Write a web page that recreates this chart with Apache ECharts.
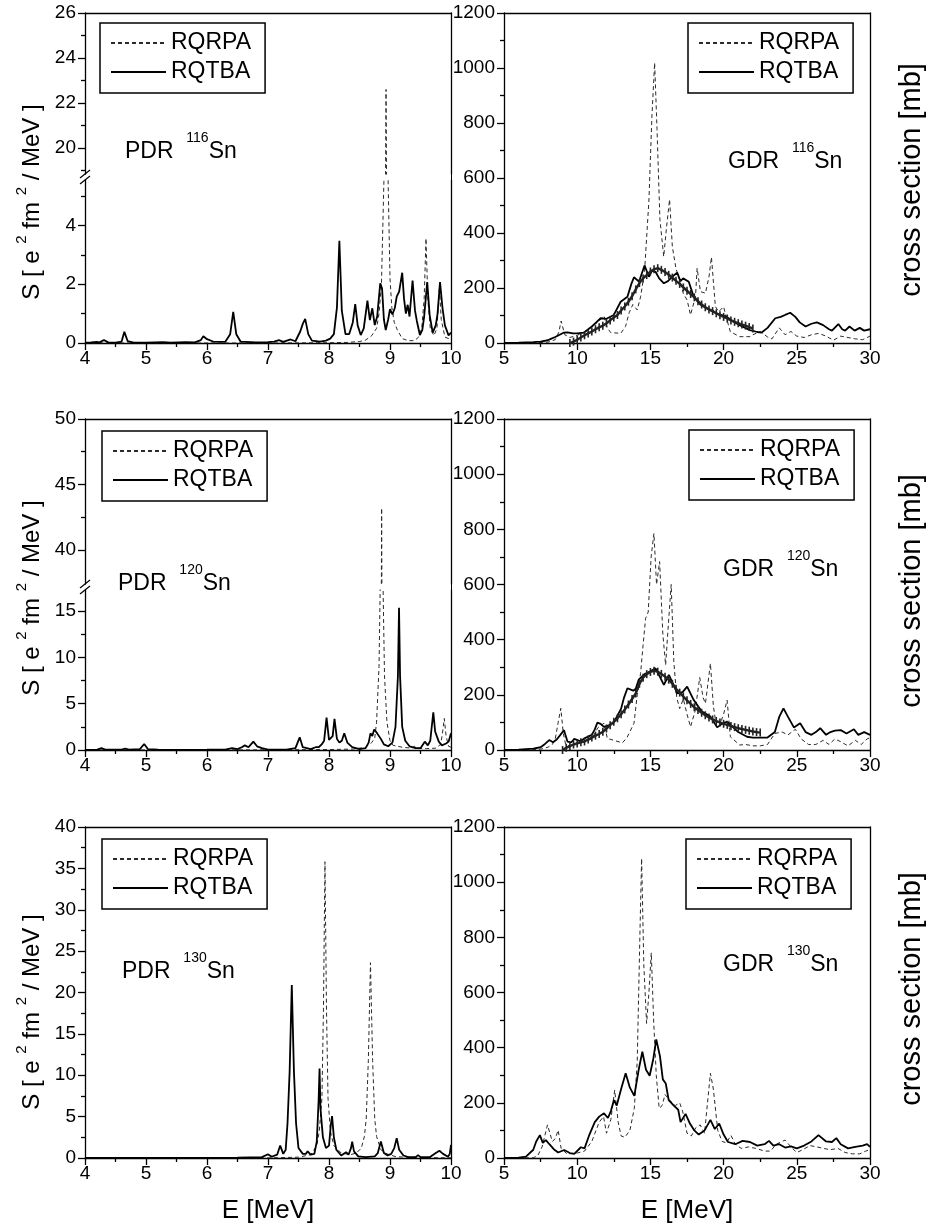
<!DOCTYPE html>
<html><head><meta charset="utf-8">
<script src="https://cdn.jsdelivr.net/npm/echarts@6/dist/echarts.min.js"></script>
<style>html,body{margin:0;padding:0;background:#fff}#c{width:931px;height:1228px}</style>
</head><body><div id="c"></div>
<script>
// ---------------- DATA ----------------
const pdrTicksX = [4,5,6,7,8,9,10];
const pdrMinorX = [4.5,5.5,6.5,7.5,8.5,9.5];
const gdrTicksX = [5,10,15,20,25,30];
const gdrMinorX = [7.5,12.5,17.5,22.5,27.5];
const gdrTicksY = [0,200,400,600,800,1000,1200];
const gdrMinorY = [100,300,500,700,900,1100];
const p116UpperTicks = [20,22,24,26], p116UpperMinor = [19,21,23,25];
const p116LowerTicks = [0,2,4], p116LowerMinor = [1,3,5];
const p120UpperTicks = [40,45,50], p120UpperMinor = [42.5,47.5];
const p120LowerTicks = [0,5,10,15], p120LowerMinor = [2.5,7.5,12.5];
const p130Ticks = [0,5,10,15,20,25,30,35,40], p130Minor = [2.5,7.5,12.5,17.5,22.5,27.5,32.5,37.5];

// PDR 116Sn  [E (MeV), S (e^2 fm^2 / MeV)]
const pdr116_rqtba = [[4.0,0.01],[4.1,0.02],[4.19,0.04],[4.24,0.02],[4.31,0.1],[4.38,0.02],[4.5,0.01],[4.6,0.05],[4.645,0.38],[4.7,0.06],[4.8,0.01],[5.0,0.01],[5.28,0.03],[5.4,0.01],[5.65,0.03],[5.8,0.02],[5.9,0.1],[5.94,0.23],[6.0,0.13],[6.1,0.05],[6.3,0.04],[6.38,0.3],[6.43,1.06],[6.48,0.3],[6.55,0.05],[6.8,0.02],[7.0,0.03],[7.1,0.05],[7.18,0.1],[7.25,0.04],[7.37,0.12],[7.45,0.06],[7.53,0.4],[7.57,0.65],[7.61,0.82],[7.66,0.3],[7.72,0.08],[7.85,0.05],[7.95,0.08],[8.02,0.15],[8.08,0.3],[8.13,1.2],[8.17,3.48],[8.21,1.1],[8.27,0.3],[8.33,0.3],[8.39,0.7],[8.43,1.32],[8.47,0.6],[8.52,0.27],[8.57,0.5],[8.63,1.44],[8.67,0.78],[8.71,1.18],[8.75,0.61],[8.79,0.9],[8.84,2.03],[8.87,1.85],[8.9,0.8],[8.93,0.44],[8.97,0.8],[9.0,1.15],[9.04,0.97],[9.08,1.2],[9.11,1.58],[9.15,1.75],[9.2,2.39],[9.23,1.5],[9.26,1.0],[9.29,1.3],[9.32,0.9],[9.37,2.12],[9.41,1.1],[9.44,0.75],[9.49,0.27],[9.53,0.45],[9.56,0.9],[9.61,2.07],[9.65,0.95],[9.7,0.35],[9.75,0.6],[9.78,1.0],[9.82,2.07],[9.86,1.2],[9.9,0.6],[9.96,0.26],[10.0,0.35]];
const pdr116_rqrpa = [[4.0,0.0],[7.0,0.0],[8.0,0.01],[8.3,0.02],[8.5,0.05],[8.6,0.1],[8.7,0.25],[8.78,0.5],[8.82,1.0],[8.86,2.0],[8.9,5.5],[8.935,22.6],[8.97,5.4],[9.0,2.2],[9.03,1.2],[9.07,0.7],[9.12,0.45],[9.2,0.15],[9.3,0.08],[9.4,0.08],[9.47,0.2],[9.52,0.5],[9.56,1.5],[9.59,3.56],[9.62,1.5],[9.66,0.5],[9.72,0.25],[9.77,0.5],[9.81,1.9],[9.84,0.8],[9.9,0.2],[10.0,0.12]];

// PDR 120Sn
const pdr120_rqtba = [[4.0,0.02],[4.2,0.05],[4.27,0.2],[4.33,0.05],[4.6,0.05],[4.66,0.15],[4.72,0.05],[4.9,0.1],[4.97,0.65],[5.03,0.1],[5.2,0.03],[5.6,0.02],[6.0,0.03],[6.3,0.05],[6.41,0.2],[6.5,0.1],[6.57,0.3],[6.62,0.5],[6.68,0.3],[6.72,0.6],[6.76,0.9],[6.82,0.4],[6.9,0.2],[7.0,0.05],[7.3,0.05],[7.45,0.2],[7.52,1.37],[7.57,0.3],[7.7,0.1],[7.78,0.3],[7.83,0.3],[7.88,0.6],[7.92,1.0],[7.96,3.5],[8.0,1.1],[8.03,0.9],[8.06,1.5],[8.09,3.35],[8.13,1.2],[8.17,0.8],[8.21,1.0],[8.25,1.8],[8.3,0.8],[8.38,0.3],[8.5,0.1],[8.6,0.2],[8.65,0.8],[8.68,1.8],[8.71,1.5],[8.74,2.2],[8.78,1.9],[8.81,2.0],[8.85,1.2],[8.9,0.6],[8.97,0.4],[9.04,0.8],[9.09,2.5],[9.13,8.0],[9.148,15.35],[9.165,8.0],[9.2,2.5],[9.25,1.0],[9.32,0.4],[9.42,0.2],[9.5,0.2],[9.57,0.9],[9.62,0.5],[9.66,1.0],[9.71,4.07],[9.74,2.0],[9.76,2.0],[9.8,0.9],[9.85,0.5],[9.92,0.7],[9.96,0.9],[10.0,1.8]];
const pdr120_rqrpa = [[4.0,0.0],[7.0,0.02],[8.0,0.05],[8.4,0.1],[8.6,0.3],[8.7,0.8],[8.75,1.3],[8.78,3.0],[8.82,9.0],[8.845,20.0],[8.863,43.2],[8.88,20.0],[8.91,8.0],[8.95,3.0],[9.0,1.0],[9.05,0.5],[9.2,0.3],[9.35,0.2],[9.4,0.4],[9.45,0.2],[9.6,0.15],[9.75,0.2],[9.83,0.6],[9.86,1.8],[9.89,3.4],[9.92,1.5],[9.96,0.4],[10.0,0.3]];

// PDR 130Sn
const pdr130_rqtba = [[4.0,0.0],[6.0,0.01],[6.5,0.05],[6.9,0.1],[7.0,0.45],[7.06,0.15],[7.15,0.4],[7.2,1.5],[7.25,0.5],[7.29,1.0],[7.32,4.2],[7.355,10.5],[7.39,20.9],[7.425,10.5],[7.46,4.2],[7.5,1.2],[7.57,0.5],[7.62,0.5],[7.65,0.8],[7.7,0.4],[7.76,0.5],[7.8,2.0],[7.83,7.0],[7.845,10.8],[7.86,6.0],[7.9,2.5],[7.95,1.2],[8.0,1.5],[8.03,4.0],[8.05,5.07],[8.08,2.5],[8.12,1.0],[8.2,0.3],[8.28,0.7],[8.32,0.4],[8.36,1.2],[8.38,1.97],[8.41,0.8],[8.48,0.2],[8.6,0.1],[8.75,0.2],[8.8,0.6],[8.85,2.0],[8.9,0.6],[8.96,0.3],[9.02,0.5],[9.07,1.2],[9.11,2.4],[9.15,1.0],[9.22,0.3],[9.3,0.1],[9.42,0.1],[9.46,0.35],[9.5,0.1],[9.65,0.1],[9.75,0.6],[9.81,0.88],[9.87,0.5],[9.95,0.15],[9.98,0.5],[10.0,1.6]];
const pdr130_rqrpa = [[4.0,0.0],[7.0,0.01],[7.5,0.1],[7.7,0.4],[7.8,1.5],[7.84,3.2],[7.884,7.2],[7.909,17.9],[7.934,35.8],[7.959,17.9],[7.984,7.2],[8.024,3.2],[8.08,1.5],[8.2,0.6],[8.35,0.4],[8.45,0.6],[8.53,1.2],[8.58,2.6],[8.61,4.7],[8.645,11.8],[8.68,23.6],[8.715,11.8],[8.75,4.7],[8.78,2.6],[8.85,1.0],[8.95,0.5],[9.1,0.15],[9.5,0.05],[10.0,0.02]];

// GDR 116Sn  [E (MeV), cross section (mb)]
const gdr116_rqtba = [[5,0],[6,1],[6.5,2],[7,3],[7.5,5],[8,10],[8.2,15],[8.5,22],[8.8,30],[9.1,38],[9.34,39],[9.7,35],[10.0,35],[10.47,38],[11.0,60],[11.3,75],[11.6,90],[12.0,88],[12.5,102],[12.97,150],[13.43,168],[13.7,215],[13.88,239],[14.0,235],[14.22,223],[14.6,282],[14.9,241],[15.1,262],[15.35,259],[15.6,235],[15.92,217],[16.2,225],[16.49,241],[16.83,256],[17.05,225],[17.24,235],[17.62,223],[17.96,168],[18.4,140],[18.87,126],[19.5,108],[20.2,96],[20.6,80],[21.1,65],[21.8,47],[22.3,40],[22.6,38],[23.0,55],[23.53,90],[23.9,95],[24.2,102],[24.55,110],[24.9,95],[25.2,75],[25.6,60],[26.0,70],[26.37,75],[26.8,65],[27.2,50],[27.4,45],[27.84,69],[28.1,50],[28.3,45],[28.6,60],[28.95,45],[29.3,55],[29.6,45],[30,50]];
const gdr116_rqrpa = [[5,0],[7,0],[8,3],[8.5,12],[8.75,40],[8.9,80],[9.15,30],[9.5,20],[10,28],[10.5,40],[11,60],[11.5,80],[11.83,98],[12.05,55],[12.29,38],[12.97,35],[13.3,60],[13.55,110],[13.8,140],[14.1,120],[14.33,168],[14.6,260],[14.9,520],[15.1,820],[15.29,1019],[15.45,780],[15.65,450],[15.91,314],[16.1,420],[16.31,522],[16.5,350],[16.75,270],[17.0,230],[17.25,180],[17.51,156],[17.74,102],[18.08,168],[18.19,272],[18.42,187],[18.76,181],[19.0,240],[19.17,312],[19.44,132],[19.67,114],[20.0,132],[20.2,90],[20.46,41],[21.1,23],[21.8,23],[22.0,30],[22.5,42],[23.0,22],[23.3,15],[23.8,55],[24.2,30],[24.6,42],[25.0,25],[25.5,20],[26.0,30],[26.5,35],[27.0,25],[27.5,10],[28.0,25],[28.5,20],[29.0,15],[29.5,12],[30,25]];
const gdr116_exp = [[9.5,0],[9.75,5],[10.0,12],[10.25,20],[10.5,28],[10.75,35],[11.0,42],[11.25,50],[11.5,57],[11.75,63],[12.0,72],[12.25,82],[12.5,93],[12.75,102],[13.0,118],[13.25,133],[13.5,150],[13.75,170],[14.0,195],[14.25,218],[14.5,235],[14.75,247],[15.0,260],[15.25,268],[15.5,272],[15.75,266],[16.0,258],[16.25,248],[16.5,238],[16.75,226],[17.0,215],[17.25,202],[17.5,190],[17.75,178],[18.0,166],[18.25,152],[18.5,140],[18.75,130],[19.0,122],[19.25,116],[19.5,108],[19.75,101],[20.0,95],[20.25,89],[20.5,82],[20.75,77],[21.0,72],[21.25,67],[21.5,63],[21.75,58],[22.0,53]];

// GDR 120Sn
const gdr120_rqtba = [[5,0],[6,1],[6.5,3],[7,5],[7.5,10],[7.8,22],[8.09,36],[8.35,28],[8.6,38],[8.85,55],[9.1,72],[9.34,30],[9.6,28],[9.8,40],[10.2,32],[10.6,45],[11.0,55],[11.2,75],[11.38,99],[11.6,95],[11.83,84],[12.1,88],[12.5,100],[13.0,150],[13.2,190],[13.43,224],[13.83,215],[14.0,222],[14.2,255],[14.6,275],[15.0,285],[15.35,296],[15.7,260],[15.92,236],[16.26,272],[16.55,240],[16.83,205],[17.2,210],[17.51,230],[17.96,181],[18.5,140],[19.1,121],[19.56,82],[19.9,95],[20.24,103],[20.6,85],[21.0,65],[21.6,48],[22.0,45],[22.5,45],[23.0,45],[23.5,65],[23.8,120],[24.09,151],[24.4,120],[24.8,82],[25.23,97],[25.6,65],[26.0,55],[26.3,65],[26.6,79],[27.0,55],[27.3,65],[27.6,70],[28.0,72],[28.4,60],[28.9,75],[29.2,55],[29.6,65],[30,55]];
const gdr120_rqrpa = [[5,0],[7,1],[7.5,3],[8,10],[8.3,20],[8.5,40],[8.7,100],[8.88,151],[9.05,60],[9.22,18],[9.5,15],[9.7,20],[10,25],[10.5,30],[11,40],[11.4,80],[11.83,97],[12.06,42],[12.5,35],[13.09,26],[13.4,45],[13.88,97],[14.1,200],[14.33,278],[14.5,380],[14.67,477],[14.85,500],[15.05,700],[15.24,785],[15.42,600],[15.63,683],[15.85,420],[16.04,308],[16.22,450],[16.42,600],[16.6,320],[16.8,190],[17.0,150],[17.25,185],[17.5,130],[17.74,84],[18.05,140],[18.37,263],[18.6,190],[18.76,169],[18.95,250],[19.1,314],[19.3,160],[19.44,109],[19.78,97],[20.0,130],[20.24,181],[20.46,48],[21.1,18],[21.5,20],[22,15],[22.5,15],[23,20],[23.5,60],[24.0,65],[24.4,55],[24.9,75],[25.3,40],[25.8,20],[26.3,20],[26.8,35],[27.2,20],[27.6,40],[28,30],[28.5,15],[29,35],[29.4,20],[29.8,40],[30,45]];
const gdr120_exp = [[9.0,0],[9.25,8],[9.5,14],[9.75,20],[10.0,24],[10.25,28],[10.5,31],[10.75,38],[11.0,45],[11.25,52],[11.5,58],[11.75,66],[12.0,78],[12.25,90],[12.5,102],[12.75,115],[13.0,130],[13.25,147],[13.5,165],[13.75,185],[14.0,205],[14.25,240],[14.5,262],[14.75,275],[15.0,283],[15.25,287],[15.5,284],[15.75,276],[16.0,266],[16.25,255],[16.5,240],[16.75,222],[17.0,208],[17.25,194],[17.5,180],[17.75,167],[18.0,155],[18.25,145],[18.5,135],[18.75,126],[19.0,118],[19.25,111],[19.5,105],[19.75,100],[20.0,95],[20.25,91],[20.5,87],[20.75,83],[21.0,79],[21.25,76],[21.5,73],[21.75,70],[22.0,67],[22.25,65],[22.5,63]];

// GDR 130Sn
const gdr130_rqtba = [[5,0],[6,1],[6.5,5],[7.0,30],[7.2,60],[7.45,83],[7.65,55],[7.86,65],[8.1,50],[8.4,32],[8.7,20],[9.11,29],[9.5,18],[9.8,15],[10.25,39],[10.5,35],[10.8,80],[11.2,130],[11.5,150],[11.83,162],[12.1,145],[12.3,170],[12.51,210],[12.7,190],[13.0,250],[13.31,307],[13.6,255],[13.9,225],[14.2,320],[14.45,385],[14.7,320],[14.95,298],[15.2,360],[15.4,430],[15.65,370],[15.85,285],[16.05,270],[16.25,210],[16.6,190],[16.9,175],[17.06,130],[17.4,160],[17.7,125],[18.0,100],[18.3,85],[18.7,100],[19.1,138],[19.4,105],[19.7,125],[20.0,85],[20.3,58],[20.8,50],[21.3,62],[21.8,58],[22.3,45],[22.8,50],[23.1,62],[23.4,45],[23.8,50],[24.2,38],[24.6,42],[25.0,35],[25.5,45],[26.0,60],[26.48,83],[27.0,60],[27.4,58],[27.7,72],[28.0,50],[28.5,35],[29.0,40],[29.5,45],[29.8,50],[30,40]];
const gdr130_rqrpa = [[5,0],[7,1],[7.3,8],[7.6,40],[7.97,120],[8.3,60],[8.5,70],[8.7,101],[8.9,35],[9.3,15],[10,18],[10.5,25],[11,60],[11.5,130],[11.8,150],[12.0,90],[12.3,140],[12.56,246],[12.8,130],[13.0,80],[13.25,75],[13.6,100],[13.9,180],[14.1,350],[14.28,800],[14.4,1086],[14.55,700],[14.74,488],[14.9,600],[15.06,744],[15.22,500],[15.4,300],[15.6,180],[15.8,190],[16.0,230],[16.3,210],[16.7,190],[17.0,200],[17.2,170],[17.5,90],[17.8,80],[18.1,110],[18.4,120],[18.7,90],[18.9,200],[19.1,307],[19.3,250],[19.6,100],[19.9,60],[20.2,55],[20.5,82],[20.8,50],[21.2,35],[21.7,40],[22.2,35],[22.8,25],[23.2,25],[23.6,50],[24.2,65],[24.6,40],[25.0,20],[25.4,30],[25.9,45],[26.4,40],[26.8,35],[27.3,30],[27.8,35],[28.3,20],[28.8,15],[29.3,15],[29.7,25],[30,30]];

// ---------------- BUILD ----------------
const FONT = '"Liberation Sans", Arial, Helvetica, sans-serif';
const AX = {color:'#000', width:1.3};
const fmt = v => String(v);
const grids=[], xAxes=[], yAxes=[], series=[], legends=[], graphics=[];
const STYLE_RPA = {color:'#2a2a2a', width:1, type:[4,3]};
const STYLE_TBA = {color:'#000', width:1.8, type:'solid'};
const PW = 366;

function addGrid(l,t,w,h){ grids.push({left:l, top:t, width:w, height:h}); return grids.length-1; }
function addXAxes(g, min, max, major, minor, showBottom, name, topLine){
  const idx = xAxes.length;
  xAxes.push({type:'value', gridIndex:g, min, max, position:'bottom',
    axisLine:{show:showBottom, onZero:false, lineStyle:AX},
    axisTick:{show:showBottom, customValues:major, length:7, lineStyle:AX},
    axisLabel:{show:showBottom, customValues:major, formatter:fmt, margin:6, color:'#000', fontSize:19, fontFamily:FONT},
    splitLine:{show:false},
    name:name||'', nameLocation:'middle', nameGap:40,
    nameTextStyle:{color:'#000', fontSize:26, fontFamily:FONT}});
  if(showBottom) xAxes.push({type:'value', gridIndex:g, min, max, position:'bottom',
    axisLine:{show:false, onZero:false}, axisTick:{show:true, customValues:minor, length:4, lineStyle:AX},
    axisLabel:{show:false}, splitLine:{show:false}});
  if(topLine) xAxes.push({type:'value', gridIndex:g, min, max, position:'top',
    axisLine:{show:true, onZero:false, lineStyle:AX}, axisTick:{show:false}, axisLabel:{show:false}, splitLine:{show:false}});
  return idx;
}
function addYAxes(g, min, max, major, minor){
  const idx = yAxes.length;
  yAxes.push({type:'value', gridIndex:g, min, max, position:'left',
    axisLine:{show:true, onZero:false, lineStyle:AX},
    axisTick:{show:true, customValues:major, length:7, lineStyle:AX},
    axisLabel:{show:true, customValues:major, formatter:fmt, margin:9, color:'#000', fontSize:19, fontFamily:FONT},
    splitLine:{show:false}});
  yAxes.push({type:'value', gridIndex:g, min, max, position:'left',
    axisLine:{show:false, onZero:false}, axisTick:{show:true, customValues:minor, length:4, lineStyle:AX},
    axisLabel:{show:false}, splitLine:{show:false}});
  yAxes.push({type:'value', gridIndex:g, min, max, position:'right',
    axisLine:{show:true, onZero:false, lineStyle:AX}, axisTick:{show:false}, axisLabel:{show:false}, splitLine:{show:false}});
  return idx;
}
function addLine(name, data, style, xi, yi, z){
  series.push({type:'line', name, data, xAxisIndex:xi, yAxisIndex:yi, symbol:'none', showSymbol:false,
    lineStyle:style, itemStyle:{color:style.color}, animation:false, clip:true, silent:true, z:z||2});
}
function addExp(data, xi, yi){
  series.push({type:'line', name:'exp', data, xAxisIndex:xi, yAxisIndex:yi, symbol:'rect', symbolSize:[1.6,8], showSymbol:true,
    lineStyle:{color:'#222', width:2.4}, itemStyle:{color:'#222'}, animation:false, clip:true, silent:true, z:4});
}
function buildPanel(cfg){
  cfg.segments.forEach(seg => {
    const g = addGrid(cfg.left, seg.top, PW, seg.h);
    const xi = addXAxes(g, cfg.xmin, cfg.xmax, cfg.xt, cfg.xm, seg.bottom, seg.bottom ? cfg.xName : '', seg.topLine);
    const yi = addYAxes(g, seg.ymin, seg.ymax, seg.yt, seg.ym);
    addLine('RQRPA', cfg.rpa, STYLE_RPA, xi, yi, 2);
    addLine('RQTBA', cfg.tba, STYLE_TBA, xi, yi, 3);
    if(cfg.exp) addExp(cfg.exp, xi, yi);
  });
  legends.push({left:cfg.legend[0], top:cfg.legend[1], orient:'vertical', data:['RQRPA','RQTBA'], selectedMode:false,
    borderColor:'#000', borderWidth:1.5, padding:[7,14,8,10], itemWidth:55, itemHeight:12, itemGap:3,
    itemStyle:{opacity:0, borderWidth:0},
    textStyle:{fontSize:23, color:'#000', fontFamily:FONT, lineHeight:26}});
}

const L1 = 85, L2 = 504;
// Row 1
buildPanel({left:L1, xmin:4, xmax:10, xt:pdrTicksX, xm:pdrMinorX, rpa:pdr116_rqrpa, tba:pdr116_rqtba, legend:[100,23],
  segments:[{top:13, h:161, ymin:18.84, ymax:26, yt:p116UpperTicks, ym:p116UpperMinor, bottom:false, topLine:true},
            {top:180, h:163, ymin:0, ymax:5.544, yt:p116LowerTicks, ym:p116LowerMinor, bottom:true, topLine:false}]});
buildPanel({left:L2, xmin:5, xmax:30, xt:gdrTicksX, xm:gdrMinorX, rpa:gdr116_rqrpa, tba:gdr116_rqtba, exp:gdr116_exp, legend:[688,23],
  segments:[{top:13, h:330, ymin:0, ymax:1200, yt:gdrTicksY, ym:gdrMinorY, bottom:true, topLine:true}]});
// Row 2
buildPanel({left:L1, xmin:4, xmax:10, xt:pdrTicksX, xm:pdrMinorX, rpa:pdr120_rqrpa, tba:pdr120_rqtba, legend:[102,431],
  segments:[{top:419, h:165, ymin:37.4, ymax:50, yt:p120UpperTicks, ym:p120UpperMinor, bottom:false, topLine:true},
            {top:590, h:160, ymin:0, ymax:17.26, yt:p120LowerTicks, ym:p120LowerMinor, bottom:true, topLine:false}]});
buildPanel({left:L2, xmin:5, xmax:30, xt:gdrTicksX, xm:gdrMinorX, rpa:gdr120_rqrpa, tba:gdr120_rqtba, exp:gdr120_exp, legend:[689,430],
  segments:[{top:419, h:331, ymin:0, ymax:1200, yt:gdrTicksY, ym:gdrMinorY, bottom:true, topLine:true}]});
// Row 3 (no experimental data for 130Sn)
buildPanel({left:L1, xmin:4, xmax:10, xt:pdrTicksX, xm:pdrMinorX, rpa:pdr130_rqrpa, tba:pdr130_rqtba, legend:[102,839], xName:'E [MeV]',
  segments:[{top:827, h:331, ymin:0, ymax:40, yt:p130Ticks, ym:p130Minor, bottom:true, topLine:true}]});
buildPanel({left:L2, xmin:5, xmax:30, xt:gdrTicksX, xm:gdrMinorX, rpa:gdr130_rqrpa, tba:gdr130_rqtba, exp:null, legend:[686,839], xName:'E [MeV]',
  segments:[{top:827, h:331, ymin:0, ymax:1200, yt:gdrTicksY, ym:gdrMinorY, bottom:true, topLine:true}]});

// ---------------- TEXT / DECORATION ----------------
const richLabel = {
  a:{fontSize:23, lineHeight:32, verticalAlign:'bottom', fontFamily:FONT, color:'#000'},
  s:{fontSize:14, lineHeight:14, verticalAlign:'top', fontFamily:FONT, color:'#000'}
};
function panelLabel(x, y, kind, mass){
  graphics.push({type:'text', x, y, silent:true,
    style:{text:'{a|' + kind + '  }{s|' + mass + '}{a|Sn}', rich:richLabel, align:'left', verticalAlign:'top', fill:'#000', fontFamily:FONT}});
}
panelLabel(125, 131, 'PDR', '116');
panelLabel(728, 141, 'GDR', '116');
panelLabel(118, 563, 'PDR', '120');
panelLabel(723, 549, 'GDR', '120');
panelLabel(122, 951, 'PDR', '130');
panelLabel(723, 944, 'GDR', '130');

const richY = {
  m:{fontSize:24, fontFamily:FONT, color:'#000', lineHeight:30, verticalAlign:'bottom'},
  s:{fontSize:15, fontFamily:FONT, color:'#000', lineHeight:15, verticalAlign:'top'}
};
[202, 598, 1012].forEach(cy => graphics.push({type:'text', x:29, y:cy, rotation:Math.PI/2, silent:true,
  style:{text:'{m|S [ e }{s|2}{m| fm }{s|2}{m| / MeV ]}', rich:richY, align:'center', verticalAlign:'middle', fill:'#000'}}));
[180, 591, 989].forEach(cy => graphics.push({type:'text', x:912, y:cy, rotation:Math.PI/2, silent:true,
  style:{text:'cross section [mb]', fontSize:29, fontFamily:FONT, align:'center', verticalAlign:'middle', fill:'#000'}}));

// axis-break marks on the left axis; right border continued across the break
function breakMark(x, y0, y1, xr){
  const c = (y0 + y1) / 2;
  [c - 3, c + 3].forEach(yy => graphics.push({type:'line', silent:true,
    shape:{x1:x - 5, y1:yy + 4, x2:x + 5, y2:yy - 4}, style:{stroke:'#000', lineWidth:1.3}}));
  graphics.push({type:'rect', silent:true, shape:{x:xr - 0.5, y:y0 - 0.5, width:1, height:y1 - y0 + 1}, style:{fill:'#000'}});
}
breakMark(85, 174, 180, 451.5);
breakMark(85, 584, 590, 451.5);

const option = {
  backgroundColor:'#fff',
  animation:false,
  textStyle:{fontFamily:FONT},
  grid:grids, xAxis:xAxes, yAxis:yAxes, series, legend:legends, graphic:graphics
};
const chart = echarts.init(document.getElementById('c'));
chart.setOption(option);
</script></body></html>
